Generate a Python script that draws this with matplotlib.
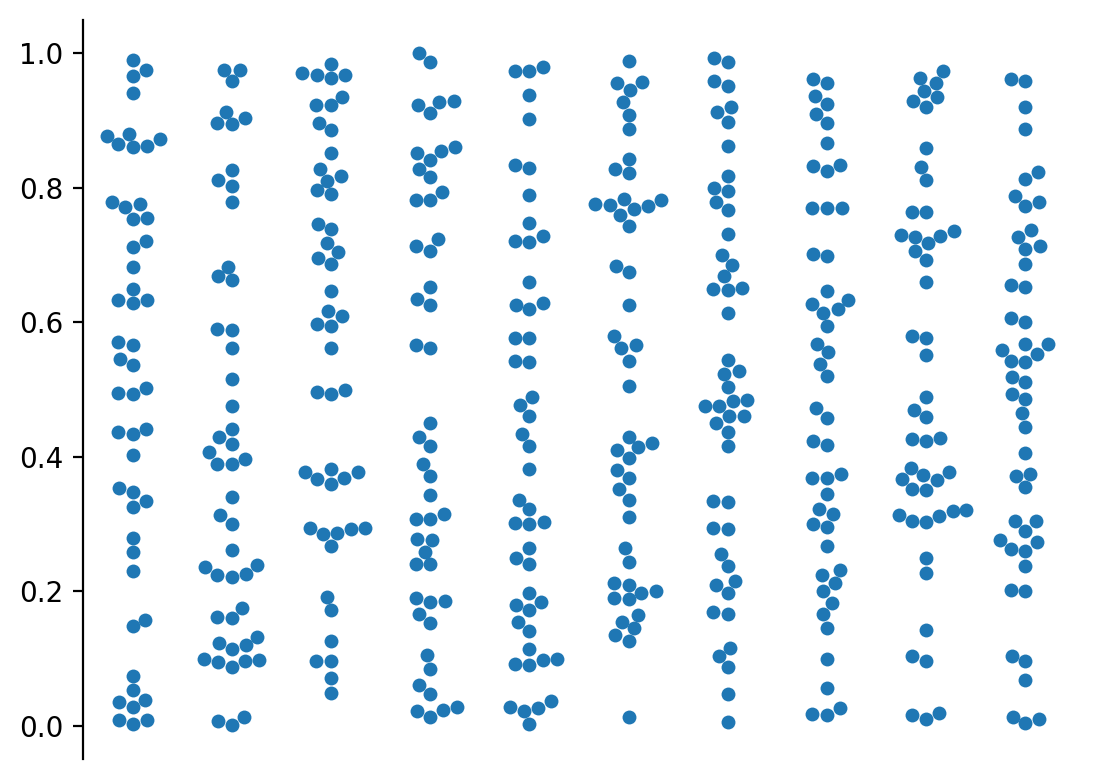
import numpy as np
import pandas as pd
import matplotlib
matplotlib.use("Agg")
import matplotlib.pyplot as plt
import seaborn as sns

# values, one list per column (left to right)
col0 = [0.99, 0.975, 0.966, 0.94, 0.877, 0.872, 0.88, 0.862, 0.86, 0.865,
        0.779, 0.771, 0.776, 0.753, 0.755, 0.72, 0.712, 0.682, 0.649, 0.633,
        0.628, 0.633, 0.571, 0.566, 0.546, 0.536, 0.495, 0.493, 0.502, 0.437,
        0.434, 0.441, 0.403, 0.353, 0.347, 0.334, 0.325, 0.28, 0.258, 0.23,
        0.148, 0.158, 0.075, 0.053, 0.035, 0.039, 0.029, 0.009, 0.003, 0.009]
col1 = [0.975, 0.975, 0.958, 0.913, 0.896, 0.894, 0.903, 0.826, 0.811, 0.803,
        0.778, 0.682, 0.668, 0.662, 0.59, 0.589, 0.562, 0.515, 0.475, 0.441,
        0.43, 0.419, 0.407, 0.39, 0.389, 0.397, 0.34, 0.313, 0.3, 0.262,
        0.236, 0.225, 0.222, 0.226, 0.239, 0.175, 0.162, 0.16, 0.133, 0.124,
        0.115, 0.12, 0.1, 0.095, 0.088, 0.097, 0.098, 0.007, 0.002, 0.014]
col2 = [0.984, 0.968, 0.963, 0.968, 0.97, 0.935, 0.922, 0.922, 0.896, 0.885,
        0.851, 0.828, 0.817, 0.81, 0.796, 0.79, 0.746, 0.738, 0.718, 0.704,
        0.695, 0.686, 0.646, 0.616, 0.609, 0.598, 0.595, 0.562, 0.497, 0.494,
        0.5, 0.377, 0.368, 0.382, 0.36, 0.367, 0.377, 0.294, 0.285, 0.287,
        0.293, 0.294, 0.268, 0.192, 0.172, 0.127, 0.096, 0.096, 0.071, 0.049]
col3 = [1.0, 0.987, 0.922, 0.911, 0.927, 0.929, 0.86, 0.851, 0.841, 0.855,
        0.828, 0.815, 0.794, 0.782, 0.782, 0.723, 0.713, 0.706, 0.653, 0.634,
        0.626, 0.566, 0.562, 0.45, 0.43, 0.416, 0.39, 0.372, 0.343, 0.307,
        0.307, 0.315, 0.277, 0.278, 0.259, 0.24, 0.24, 0.19, 0.185, 0.186,
        0.167, 0.153, 0.105, 0.085, 0.061, 0.047, 0.023, 0.013, 0.024, 0.029]
col4 = [0.973, 0.973, 0.979, 0.937, 0.902, 0.834, 0.829, 0.789, 0.747, 0.721,
        0.719, 0.728, 0.659, 0.628, 0.619, 0.626, 0.577, 0.576, 0.543, 0.541,
        0.489, 0.477, 0.461, 0.434, 0.416, 0.382, 0.336, 0.322, 0.301, 0.3,
        0.303, 0.264, 0.25, 0.241, 0.197, 0.18, 0.185, 0.172, 0.154, 0.141,
        0.115, 0.092, 0.09, 0.098, 0.099, 0.037, 0.027, 0.022, 0.029, 0.003]
col5 = [0.988, 0.955, 0.945, 0.957, 0.927, 0.908, 0.887, 0.843, 0.828, 0.822,
        0.776, 0.773, 0.781, 0.768, 0.774, 0.783, 0.76, 0.743, 0.684, 0.674,
        0.626, 0.579, 0.561, 0.566, 0.543, 0.505, 0.43, 0.42, 0.414, 0.41,
        0.398, 0.38, 0.368, 0.352, 0.336, 0.31, 0.264, 0.244, 0.213, 0.21,
        0.2, 0.19, 0.188, 0.198, 0.165, 0.155, 0.145, 0.135, 0.126, 0.014]
col6 = [0.992, 0.987, 0.959, 0.951, 0.919, 0.912, 0.898, 0.862, 0.817, 0.8,
        0.795, 0.779, 0.766, 0.731, 0.70, 0.685, 0.668, 0.65, 0.648, 0.651,
        0.614, 0.544, 0.527, 0.523, 0.503, 0.485, 0.483, 0.475, 0.475, 0.46,
        0.46, 0.45, 0.437, 0.416, 0.335, 0.333, 0.294, 0.293, 0.256, 0.238,
        0.215, 0.209, 0.197, 0.17, 0.166, 0.116, 0.104, 0.088, 0.048, 0.006]
col7 = [0.962, 0.955, 0.936, 0.924, 0.91, 0.896, 0.866, 0.832, 0.825, 0.834,
        0.77, 0.769, 0.77, 0.701, 0.698, 0.647, 0.633, 0.627, 0.619, 0.614,
        0.594, 0.568, 0.555, 0.538, 0.52, 0.472, 0.458, 0.423, 0.418, 0.368,
        0.369, 0.375, 0.345, 0.323, 0.315, 0.3, 0.296, 0.268, 0.232, 0.224,
        0.213, 0.2, 0.183, 0.166, 0.146, 0.1, 0.057, 0.018, 0.017, 0.027]
col8 = [0.973, 0.963, 0.955, 0.943, 0.934, 0.928, 0.92, 0.859, 0.831, 0.812,
        0.763, 0.763, 0.73, 0.727, 0.717, 0.728, 0.736, 0.706, 0.692, 0.66,
        0.58, 0.577, 0.552, 0.489, 0.47, 0.459, 0.427, 0.423, 0.428, 0.383,
        0.367, 0.373, 0.351, 0.352, 0.365, 0.377, 0.321, 0.319, 0.305, 0.303,
        0.312, 0.314, 0.25, 0.228, 0.142, 0.104, 0.097, 0.017, 0.01, 0.02]
col9 = [0.962, 0.959, 0.92, 0.887, 0.823, 0.813, 0.788, 0.779, 0.773, 0.737,
        0.727, 0.713, 0.709, 0.686, 0.656, 0.653, 0.606, 0.601, 0.567, 0.553,
        0.567, 0.558, 0.542, 0.541, 0.518, 0.511, 0.494, 0.486, 0.465, 0.445,
        0.405, 0.375, 0.371, 0.355, 0.304, 0.304, 0.29, 0.277, 0.273, 0.263,
        0.26, 0.238, 0.202, 0.2, 0.104, 0.096, 0.068, 0.014, 0.01, 0.004]

columns = [col0, col1, col2, col3, col4, col5, col6, col7, col8, col9]
df = pd.DataFrame({
    "group": np.repeat(np.arange(len(columns)), [len(c) for c in columns]),
    "value": np.concatenate(columns),
})

fig = plt.figure(figsize=(5.475, 3.895), dpi=200)
ax = fig.add_axes([83 / 1095, 20 / 779, 992 / 1095, 739 / 779])
sns.swarmplot(data=df, x="group", y="value", color="#1f77b4", size=5, ax=ax)
ax.set_ylim(-0.049, 1.049)
ax.set_xticks([])
ax.set_xlabel("")
ax.set_ylabel("")
sns.despine(ax=ax, bottom=True)

fig.savefig("out.png", dpi=200)
